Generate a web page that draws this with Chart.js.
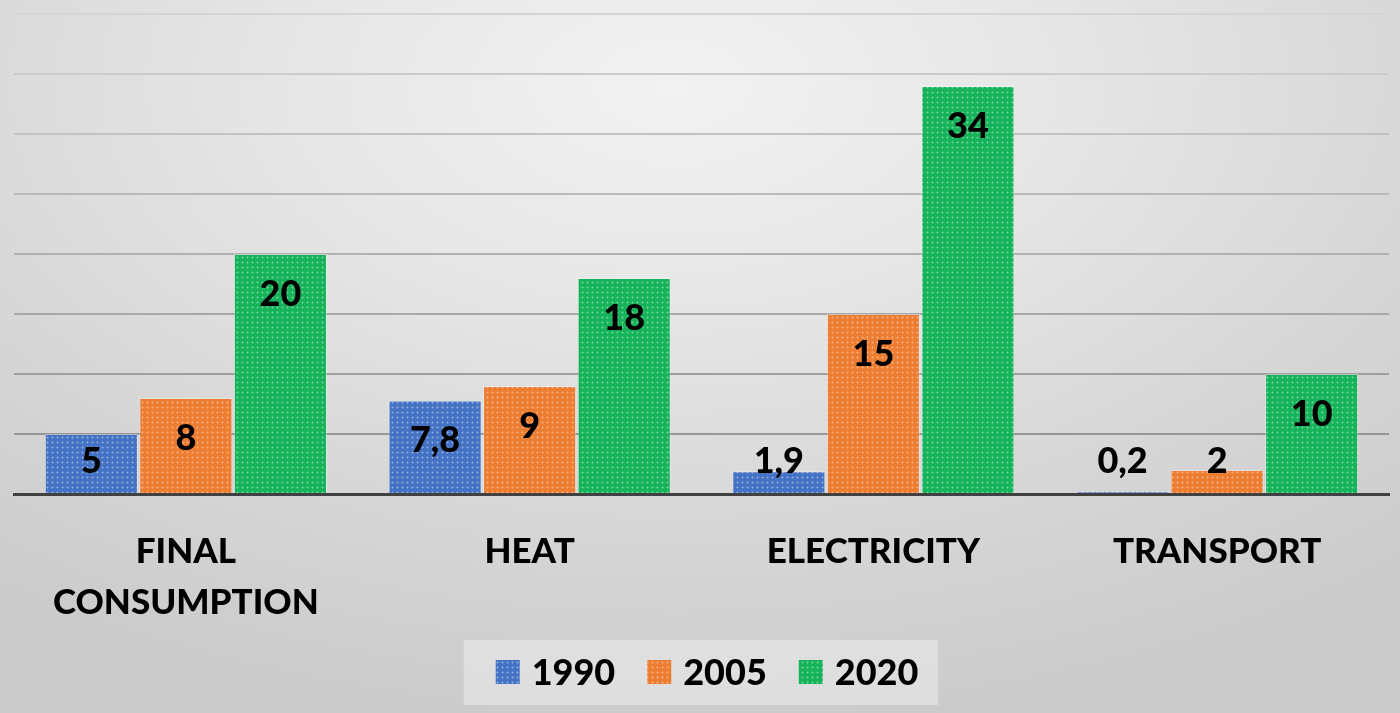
<!DOCTYPE html>
<html>
<head>
<meta charset="utf-8">
<script src="https://cdn.jsdelivr.net/npm/chart.js@4/dist/chart.umd.min.js"></script>
<style>
  html, body { margin: 0; padding: 0; width: 1400px; height: 713px; overflow: hidden; }
  body { background: radial-gradient(ellipse 80% 90% at 48% 12%, #f2f2f2 0%, #e6e6e6 35%, #d6d6d6 70%, #cbcbcb 100%); }
  #wrap { position: relative; width: 1400px; height: 713px; }
</style>
</head>
<body>
<div id="wrap"><canvas id="c" width="1400" height="713"></canvas></div>
<script>
const categories = [['FINAL', 'CONSUMPTION'], 'HEAT', 'ELECTRICITY', 'TRANSPORT'];
const seriesNames = ['1990', '2005', '2020'];
const values1990 = [5, 7.8, 1.9, 0.2];
const values2005 = [8, 9, 15, 2];
const values2020 = [20, 18, 34, 10];
const yMin = 0, yMax = 40, yStep = 5;

const baseColors = ['#4472c4', '#ed7d31', '#15b45a'];
const FONT = 'Lato, "Open Sans", sans-serif';
const W = '900';

function makePattern(color) {
  const c = document.createElement('canvas');
  c.width = 5; c.height = 5;
  const g = c.getContext('2d');
  g.fillStyle = color; g.fillRect(0, 0, 5, 5);
  g.fillStyle = 'rgba(255,255,255,0.22)';
  g.fillRect(2, 1, 1, 3);
  g.fillRect(1, 2, 3, 1);
  return g.createPattern(c, 'repeat');
}
const patterns = baseColors.map(makePattern);

function fmt(v) { return String(v).replace('.', ','); }

function lerpGray(a, b, t) { const v = Math.round(a + (b - a) * t); return `rgb(${v},${v},${v})`; }

const labelPlugin = {
  id: 'barLabels',
  afterDatasetsDraw(chart) {
    const ctx = chart.ctx;
    const base = chart.scales.y.getPixelForValue(0);
    ctx.save();
    ctx.font = `${W} 36px ${FONT}`;
    ctx.fillStyle = '#000';
    ctx.textAlign = 'center';
    ctx.textBaseline = 'middle';
    chart.data.datasets.forEach((ds, di) => {
      const meta = chart.getDatasetMeta(di);
      meta.data.forEach((bar, i) => {
        const y = Math.min(bar.y + 40, base - 33);
        ctx.fillText(fmt(ds.data[i]), bar.x, y);
      });
    });
    ctx.restore();
  }
};

const legendPlugin = {
  id: 'customLegend',
  afterDraw(chart) {
    const ctx = chart.ctx;
    ctx.save();
    ctx.font = `${W} 36px ${FONT}`;
    const items = chart.data.datasets.map((ds, i) => ({ text: ds.label, fill: patterns[i], w: ctx.measureText(ds.label).width }));
    const marker = 24, gapText = 12, gapItem = 32;
    let total = 0;
    items.forEach((it, i) => { total += marker + gapText + it.w + (i < items.length - 1 ? gapItem : 0); });
    const cx = 701, cy = 672;
    const startX = cx - total / 2 + 6;
    ctx.fillStyle = 'rgba(236,236,236,0.55)';
    ctx.fillRect(startX - 32, 640, total + 52, 65);
    let x = startX;
    ctx.textBaseline = 'middle';
    ctx.textAlign = 'left';
    items.forEach(it => {
      ctx.fillStyle = it.fill;
      ctx.fillRect(x, cy - 12, marker, marker);
      ctx.fillStyle = '#000';
      ctx.fillText(it.text, x + marker + gapText, cy + 1);
      x += marker + gapText + it.w + gapItem;
    });
    ctx.restore();
  }
};

new Chart(document.getElementById('c'), {
  type: 'bar',
  data: {
    labels: categories,
    datasets: [
      { label: seriesNames[0], data: values1990, backgroundColor: patterns[0] },
      { label: seriesNames[1], data: values2005, backgroundColor: patterns[1] },
      { label: seriesNames[2], data: values2020, backgroundColor: patterns[2] }
    ]
  },
  options: {
    responsive: false,
    animation: false,
    events: [],
    layout: { padding: { top: 14, left: 14, right: 11, bottom: 87 } },
    datasets: {
      bar: {
        categoryPercentage: 0.825,
        barPercentage: 0.985,
        borderWidth: 1,
        borderColor: 'rgba(255,255,255,0.35)'
      }
    },
    plugins: {
      legend: { display: false },
      tooltip: { enabled: false },
      title: { display: false }
    },
    scales: {
      x: {
        grid: { display: false },
        border: { display: true, color: '#404040', width: 3 },
        ticks: {
          color: '#000',
          padding: 24,
          font: { family: FONT, size: 35, weight: W, lineHeight: 1.46 },
          maxRotation: 0,
          autoSkip: false
        },
        afterFit(axis) { axis.height = 132; }
      },
      y: {
        min: yMin, max: yMax,
        ticks: { display: false, stepSize: yStep },
        border: { display: false },
        grid: {
          drawTicks: false,
          lineWidth: 2,
          color(ctx) {
            const v = ctx.tick ? ctx.tick.value : 0;
            return lerpGray(150, 212, (v - yStep) / (yMax - yStep));
          }
        },
        afterFit(axis) { axis.width = 0; }
      }
    }
  },
  plugins: [labelPlugin, legendPlugin]
});
</script>
</body>
</html>
